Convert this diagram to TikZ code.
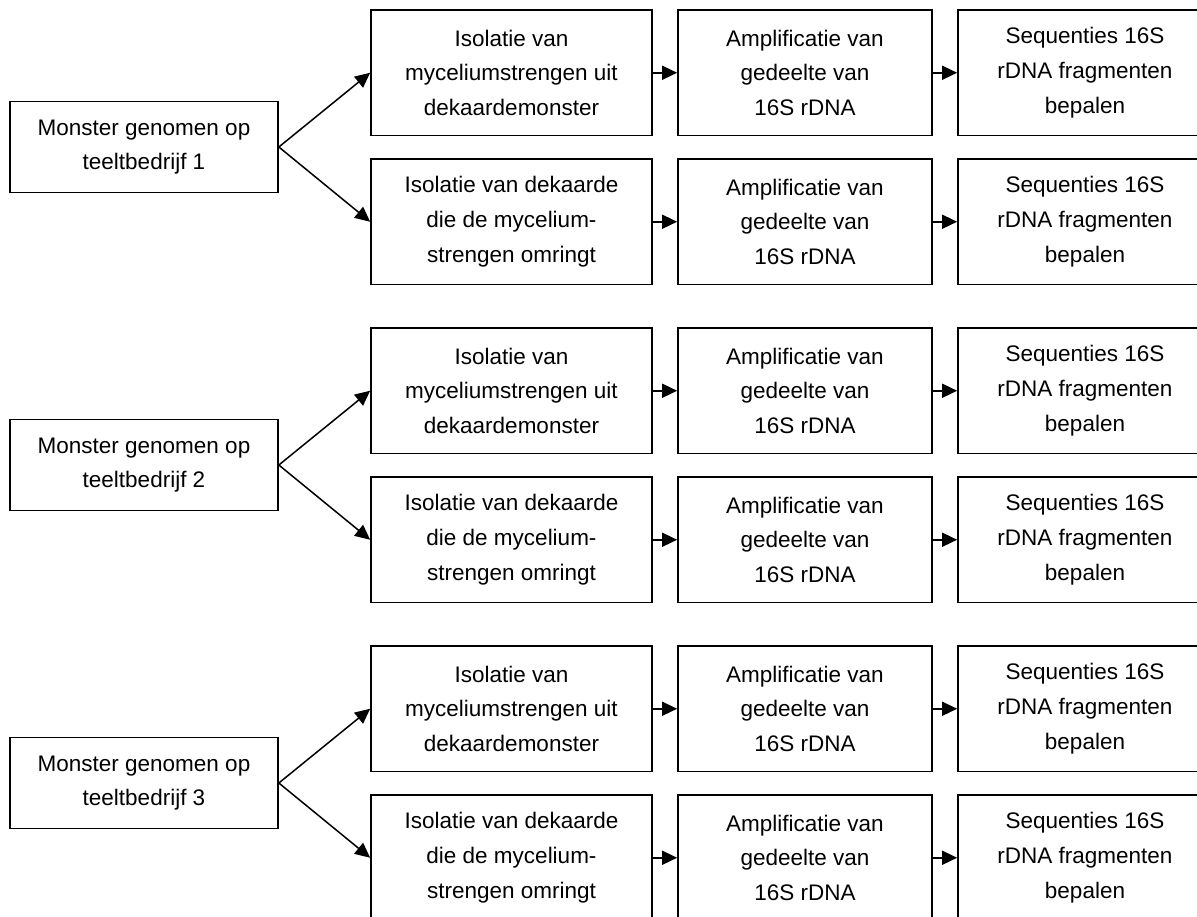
\documentclass[tikz,border=0pt]{standalone}
\usepackage{fontspec}
\setmainfont{Liberation Sans}
\usetikzlibrary{arrows.meta}

\begin{document}
\begin{tikzpicture}[x=1pt,y=-1pt,
  kader/.style={draw,line width=1.7pt,align=center,inner sep=0pt,
    minimum height=125.5,font=\fontsize{22.5}{34.7}\selectfont},
  monster/.style={kader,minimum width=268,minimum height=91},
  pijl/.style={line width=1.5pt,-{Triangle[length=15pt,width=14pt]}}]
\useasboundingbox (0,0) rectangle (1197,916);
\clip (0,0) rectangle (1197,916);
  \foreach \nr/\ypos in {1/0,2/318,3/636}
  { \node [monster] (mon\nr) at (144,147+\ypos) {Monster genomen op\\teeltbedrijf \nr};
    \node [kader,minimum width=281] (isoA\nr) at (511.5,72.75+\ypos) {Isolatie van\\myceliumstrengen uit\\dekaardemonster};
    \node [kader,minimum width=281] (isoB\nr) at (511.5,221.75+\ypos) {Isolatie van dekaarde\\die de mycelium-\\strengen omringt};
    \foreach \rij/\dy in {A/72.75,B/221.75}
    { \node [kader,minimum width=254] (amp\rij\nr) at (805,\dy+\ypos) {Amplificatie van\\gedeelte van\\16S rDNA};
      \node [kader,minimum width=254] (seq\rij\nr) at (1085,\dy+\ypos) {Sequenties 16S\\rDNA fragmenten\\bepalen};
      \draw [pijl] (mon\nr.east) -- (iso\rij\nr.west);
      \draw [pijl] (iso\rij\nr.east) -- (amp\rij\nr.west);
      \draw [pijl] (amp\rij\nr.east) -- (seq\rij\nr.west);}
  }
\end{tikzpicture}
\end{document}
